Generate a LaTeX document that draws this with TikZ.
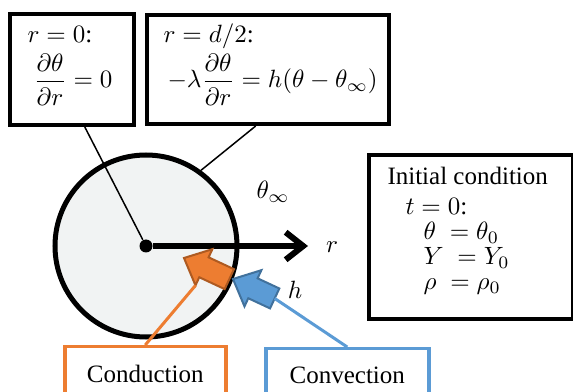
\documentclass[tikz,border=0pt]{standalone}
\usepackage{amsmath}
\usepackage{fontspec}
\setmainfont{Liberation Serif}
\usetikzlibrary{arrows.meta,calc}

\definecolor{orng}{RGB}{237,125,49}
\definecolor{orngdk}{RGB}{174,90,33}
\definecolor{blu}{RGB}{91,155,213}
\definecolor{bludk}{RGB}{65,113,156}
\definecolor{diskfill}{RGB}{241,243,243}

% block arrow, tip at the origin, pointing along +x; #1 = length
\tikzset{flux/.pic={
  \path[pic actions] (0,0) -- (-8.8pt,8pt) -- (-8.8pt,4.4pt) -- (-#1,4.4pt)
    -- (-#1,-4.4pt) -- (-8.8pt,-4.4pt) -- (-8.8pt,-8pt) -- cycle;
  \coordinate (-lc) at (-8.8pt,8pt);
  \coordinate (-tail) at (-#1,0);
}}

\begin{document}
\begin{tikzpicture}[x=0.4pt,y=-0.4pt,
  box/.style={draw,line width=1.6pt,anchor=north west,inner sep=0pt},
  cbox/.style={draw=#1,line width=1.4pt,anchor=north west,inner sep=0pt,minimum height=21.6pt},
  lab/.style={anchor=base west,inner sep=0pt},
  lead/.style={line width=0.6pt},
  rx/.style={-{Straight Barb[length=7pt,width=11pt]},line width=2.4pt}]
  \clip (0,0) rectangle (573,392);
  % boundary conditions
  \node[box,minimum width=49.6pt,minimum height=44.4pt] (bc0) at (8,12) {};
  \node[lab] (bc0a) at (27,43) {$r=0$:};
  \node[lab] (bc0b) at (33,88) {$\dfrac{\partial\theta}{\partial r}=0$};
  \node[box,minimum width=96.8pt,minimum height=43.6pt] (bcs) at (145,13) {};
  \node[lab] (bcsa) at (163,43) {$r=d/2$:};
  \node[lab] (bcsb) at (167,88) {$-\lambda\dfrac{\partial\theta}{\partial r}=h(\theta-\theta_\infty)$};
  % initial condition
  \node[box,minimum width=81.6pt,minimum height=65.6pt] (ic) at (367,153) {};
  \node[lab] (ica) at (387,185) {Initial condition};
  \node[lab] (icb) at (405,215) {$t=0$:};
  \node[lab] (icc) at (423,240) {$\theta\;=\theta_0$};
  \node[lab] (icd) at (423,265) {$Y\;=Y_0$};
  \node[lab] (ice) at (423,290) {$\rho\;=\rho_0$};
  % particle
  \node[circle,draw,line width=2pt,fill=diskfill,minimum size=72.8pt,inner sep=0pt] (disk) at (146,246) {};
  \node[circle,fill,inner sep=0pt,minimum size=5.2pt] (ctr) at (146,246) {};
  \coordinate (rtip) at (308,246);
  \draw[rx] (ctr) -- (rtip);
  \node (rlab) at (332,247) {$r$};
  \node (tinf) at (273,192) {$\theta_\infty$};
  \node (hlab) at (295,290) {$h$};
  \draw[lead] ($(bc0.south west)!0.6!(bc0.south east)$) -- (ctr);
  \draw[lead] ($(bcs.south west)!0.45!(bcs.south east)$) -- (disk.54);
  % heat fluxes
  \pic[rotate=155,fill=orng,draw=orngdk,line width=0.8pt] (cdarr) at (184,258) {flux=20pt};
  \pic[rotate=155,fill=blu,draw=bludk,line width=0.8pt] (cvarr) at (233,279) {flux=18.4pt};
  \node[cbox=orng,minimum width=64.4pt] (cond) at (63,345) {Conduction};
  \node[cbox=blu,minimum width=65.2pt] (conv) at (264,347) {Convection};
  \draw[orng,line width=1.2pt] (cond.north) -- (cdarr-lc);
  \draw[blu,line width=1.2pt] (conv.north) -- (cvarr-tail);
\end{tikzpicture}
\end{document}
